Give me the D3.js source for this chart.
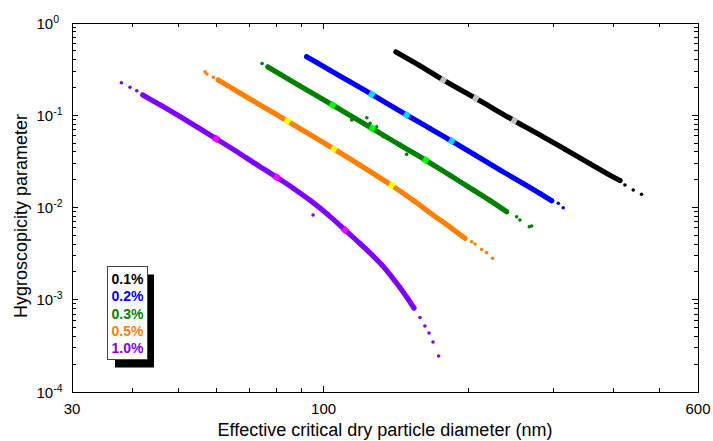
<!DOCTYPE html>
<html><head><meta charset="utf-8">
<script src="https://cdn.jsdelivr.net/npm/d3@7/dist/d3.min.js"></script>
<style>
body{margin:0;background:#fff}
svg{display:block}
text{font-family:"Liberation Sans",Arial,sans-serif}
</style>
</head><body>
<svg id="chart" width="713" height="441"></svg>
<script>
// ---------- data: [effective critical dry diameter (nm), hygroscopicity parameter] ----------
const seriesNames = ["0.1%", "0.2%", "0.3%", "0.5%", "1.0%"];
const seriesColors = ["#000000", "#0000ff", "#008000", "#ff8000", "#8000ff"];
const markColors = ["#c0c0c0", "#00d8ff", "#00ff00", "#ffff00", "#ff00ff"];

const band01 = [[141.4,0.485],[158.6,0.3436],[177.3,0.241],[207.1,0.1527],[249.0,0.0873],[281.7,0.0612],[317.4,0.0428],[357.8,0.02984],[393.7,0.02239],[413.0,0.01962]];
const tail01 = [[423.0,0.01753],[440.1,0.01548],[458.0,0.0139]];
const marks01 = [[177.3,0.241],[207.1,0.1527],[249.0,0.0873]];

const band02 = [[92.2,0.431],[103.1,0.3078],[113.5,0.2306],[125.9,0.1687],[148.8,0.1006],[166.4,0.0719],[184.6,0.0526],[206.4,0.0371],[232.6,0.0255],[260.0,0.0182],[281.7,0.01418],[297.9,0.01185]];
const tail02 = [[307.4,0.0111],[314.8,0.00995]];
const marks02 = [[125.9,0.1687],[148.8,0.1006],[184.6,0.0526]];

const band03 = [[76.6,0.3334],[89.3,0.2075],[104.4,0.1292],[126.2,0.0719],[144.1,0.0476],[163.0,0.0326],[183.1,0.02234],[204.7,0.01548],[221.7,0.01191],[240.1,0.00901]];
const tail03 = [[74.5,0.3639],[251.9,0.00795],[255.9,0.00732],[267.6,0.00619],[270.7,0.0063],[114.4,0.0888],[123.0,0.094],[124.9,0.0818],[128.9,0.0751],[133.1,0.0586],[148.8,0.0377]];
const marks03 = [[104.4,0.1292],[126.2,0.0719],[163.0,0.0326]];

const band05 = [[60.4,0.241],[67.0,0.1743],[73.8,0.1292],[84.1,0.0866],[93.7,0.0618],[105.1,0.0431],[119.0,0.02888],[138.5,0.0174],[154.9,0.01161],[168.8,0.00829],[183.1,0.00614],[196.7,0.00464]];
const tail05 = [[56.7,0.2965],[57.2,0.2801],[59.0,0.2578],[203.1,0.00426],[206.4,0.00402],[213.1,0.00352],[218.3,0.00324],[224.6,0.00281]];
const marks05 = [[84.1,0.0866],[105.1,0.0431],[138.5,0.0174]];

const band10 = [[42.1,0.1658],[45.7,0.1298],[50.3,0.0967],[54.8,0.0737],[59.8,0.0557],[65.5,0.0414],[72.0,0.03006],[79.9,0.02126],[86.7,0.01603],[94.1,0.01179],[102.1,0.00837],[110.8,0.0057],[119.0,0.00407],[126.1,0.00306],[132.2,0.00238],[138.7,0.001764],[144.1,0.001358],[149.8,0.001019],[154.1,0.000814]];
const tail10 = [[38.0,0.2253],[39.6,0.2009],[40.9,0.1845],[158.6,0.000642],[162.4,0.000519],[165.6,0.000436],[168.8,0.000348],[173.4,0.000246],[95.1,0.00829]];
const marks10 = [[59.8,0.0557],[79.9,0.02126],[110.8,0.0057]];

const xTickValues = [30, 100, 600];
const xTickLabels = ["30", "100", "600"];
const xMinorValues = [40, 50, 60, 70, 80, 90, 200, 300, 400, 500];
const yTickValues = [1, 0.1, 0.01, 0.001, 0.0001];
const yTickExponents = ["0", "-1", "-2", "-3", "-4"];
const xTitle = "Effective critical dry particle diameter (nm)";
const yTitle = "Hygroscopicity parameter";

// ---------- drawing ----------
const svg = d3.select("#chart");
const L = 72, R = 698, T = 23, B = 392;
const x = d3.scaleLog().domain([30, 600]).range([L, R]);
const y = d3.scaleLog().domain([1e-4, 1]).range([B, T]);

const series = [
  {band: band01, tail: tail01, marks: marks01},
  {band: band02, tail: tail02, marks: marks02},
  {band: band03, tail: tail03, marks: marks03},
  {band: band05, tail: tail05, marks: marks05},
  {band: band10, tail: tail10, marks: marks10}
];

const line = d3.line().curve(d3.curveCatmullRom.alpha(0.5)).x(d => x(d[0])).y(d => y(d[1]));
const plot = svg.append("g");

series.forEach((s, i) => {
  const col = seriesColors[i];
  plot.append("path").attr("d", line(s.band)).attr("fill", "none")
    .attr("stroke", col).attr("stroke-width", 5.2).attr("stroke-linecap", "round").attr("stroke-linejoin", "round");
  plot.selectAll(null).data(s.band).enter().append("circle")
    .attr("cx", d => x(d[0])).attr("cy", d => y(d[1])).attr("r", 2.4).attr("fill", col);
  plot.selectAll(null).data(s.tail).enter().append("circle")
    .attr("cx", d => x(d[0])).attr("cy", d => y(d[1])).attr("r", 1.8).attr("fill", col);
  // highlight markers aligned with local band direction
  s.marks.forEach(m => {
    const px = x(m[0]), py = y(m[1]);
    let best = 0, bd = Infinity;
    s.band.forEach((b, j) => { const dd = Math.abs(x(b[0]) - px); if (dd < bd) { bd = dd; best = j; } });
    const a = s.band[Math.max(0, best - 1)], b = s.band[Math.min(s.band.length - 1, best + 1)];
    const ang = Math.atan2(y(b[1]) - y(a[1]), x(b[0]) - x(a[0])) * 180 / Math.PI;
    plot.append("rect").attr("x", -2.8).attr("y", -3.2).attr("width", 5.6).attr("height", 6.4)
      .attr("fill", markColors[i])
      .attr("transform", `translate(${px},${py}) rotate(${ang})`);
  });
});

// frame
const axes = svg.append("g").attr("shape-rendering", "crispEdges");
axes.append("rect").attr("x", L).attr("y", T).attr("width", R - L).attr("height", B - T)
  .attr("fill", "none").attr("stroke", "#000").attr("stroke-width", 1);

// x ticks (bottom + top, inward)
xTickValues.forEach(v => {
  axes.append("line").attr("x1", x(v)).attr("x2", x(v)).attr("y1", B).attr("y2", B - 6).attr("stroke", "#000");
  axes.append("line").attr("x1", x(v)).attr("x2", x(v)).attr("y1", T).attr("y2", T + 6).attr("stroke", "#000");
});
xMinorValues.forEach(v => {
  axes.append("line").attr("x1", x(v)).attr("x2", x(v)).attr("y1", B).attr("y2", B - 4).attr("stroke", "#000");
  axes.append("line").attr("x1", x(v)).attr("x2", x(v)).attr("y1", T).attr("y2", T + 4).attr("stroke", "#000");
});
xTickValues.forEach((v, i) => {
  svg.append("text").attr("x", x(v)).attr("y", 413.5).attr("text-anchor", "middle")
    .attr("font-size", 15).attr("fill", "#000").text(xTickLabels[i]);
});

// y ticks (left + right, inward)
const yMinor = [];
yTickValues.slice(1).forEach(dec => { for (let m = 2; m <= 9; m++) yMinor.push(dec * m); });
yTickValues.forEach(v => {
  axes.append("line").attr("x1", L).attr("x2", L + 6).attr("y1", y(v)).attr("y2", y(v)).attr("stroke", "#000");
  axes.append("line").attr("x1", R).attr("x2", R - 6).attr("y1", y(v)).attr("y2", y(v)).attr("stroke", "#000");
});
yMinor.forEach(v => {
  axes.append("line").attr("x1", L).attr("x2", L + 4).attr("y1", y(v)).attr("y2", y(v)).attr("stroke", "#000");
  axes.append("line").attr("x1", R).attr("x2", R - 4).attr("y1", y(v)).attr("y2", y(v)).attr("stroke", "#000");
});
yTickValues.forEach((v, i) => {
  const t = svg.append("text").attr("x", 36.5).attr("y", y(v) + 5.5).attr("font-size", 15).attr("fill", "#000");
  t.append("tspan").text("10");
  t.append("tspan").attr("dy", -6).attr("font-size", 10.5).text(yTickExponents[i]);
});

// axis titles
svg.append("text").attr("x", (L + R) / 2).attr("y", 436).attr("text-anchor", "middle")
  .attr("font-size", 18).attr("fill", "#000").text(xTitle);
svg.append("text").attr("transform", "translate(27,216) rotate(-90)").attr("text-anchor", "middle")
  .attr("font-size", 18).attr("fill", "#000").text(yTitle);

// legend
const lg = svg.append("g");
lg.append("rect").attr("x", 115).attr("y", 274.5).attr("width", 39).attr("height", 93).attr("fill", "#000");
lg.append("rect").attr("x", 107.5).attr("y", 266.5).attr("width", 40).attr("height", 93)
  .attr("fill", "#fff").attr("stroke", "#444").attr("stroke-width", 1);
seriesNames.forEach((n, i) => {
  lg.append("text").attr("x", 111.5).attr("y", 284 + i * 17.3).attr("font-size", 14).attr("font-weight", "bold")
    .attr("fill", seriesColors[i]).text(n);
});
</script>
</body></html>
